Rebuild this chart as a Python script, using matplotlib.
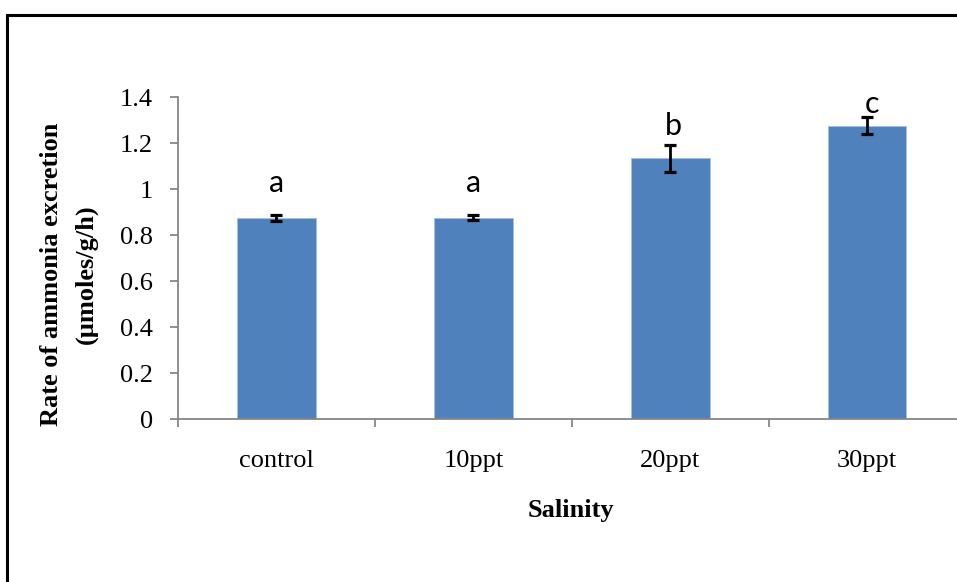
import numpy as np
import matplotlib.pyplot as plt
from matplotlib.patches import Rectangle

# data
groups = ['control', '10ppt', '20ppt', '30ppt']
rate = [0.873, 0.875, 1.133, 1.275]
err = [0.013, 0.010, 0.059, 0.038]
letters = ['a', 'a', 'b', 'c']
yticks = [0, 0.2, 0.4, 0.6, 0.8, 1, 1.2, 1.4]
ytick_labels = ['0', '0.2', '0.4', '0.6', '0.8', '1', '1.2', '1.4']

serif = 'Liberation Serif'
grey = '#868686'

fig = plt.figure(figsize=(9.57, 5.82), dpi=100)
ax = fig.add_axes([178 / 957, 1 - 419 / 582, (965.5 - 178) / 957, (419 - 97) / 582])

x = np.arange(len(groups))
ax.bar(x, rate, width=0.4, color='#4F81BD', edgecolor='#A7BFDE', linewidth=0.6, zorder=2)
ax.errorbar(x, rate, yerr=err, fmt='none', ecolor='black', elinewidth=2,
            capsize=4.3, capthick=2.3, zorder=3)

# significance letters, placed by hand like in the original
offsets = [0.1, 0.1, 0.043, 0.017]
shifts = [0, 0, 0.015, 0.025]
for xi, r, e, lab, off, sh in zip(x, rate, err, letters, offsets, shifts):
    ax.text(xi + sh, r + e + off, lab, ha='center', va='baseline', fontsize=22,
            family='Lato', color='black')

ax.set_ylim(0, 1.4)
ax.set_xlim(-0.5, len(groups) - 0.5)
ax.set_yticks(yticks)
ax.set_yticklabels(ytick_labels, fontsize=19, family=serif)

# ticks between categories, labels at centres
ax.set_xticks(np.arange(len(groups) + 1) - 0.5)
ax.set_xticklabels([])
ax.set_xticks(x, minor=True)
ax.set_xticklabels(groups, minor=True, fontsize=19, family=serif)
ax.tick_params(axis='x', which='minor', length=0, pad=22)
ax.tick_params(axis='x', which='major', direction='out', length=6, color=grey, width=1.3)
ax.tick_params(axis='y', direction='out', length=6, color=grey, width=1.3, pad=12)

for s in ['top', 'right']:
    ax.spines[s].set_visible(False)
for s in ['left', 'bottom']:
    ax.spines[s].set_color(grey)
    ax.spines[s].set_linewidth(1.3)

fig.text(52 / 957, 1 - 274 / 582, 'Rate of ammonia excretion', rotation=90,
         ha='center', va='center', fontsize=19, fontweight='bold', family=serif)
fig.text(86 / 957, 1 - 274 / 582, '(µmoles/g/h)', rotation=90,
         ha='center', va='center', fontsize=19, fontweight='bold', family=serif)
fig.text(571 / 957, 1 - 510 / 582, 'Salinity', ha='center', va='center',
         fontsize=19, fontweight='bold', family=serif)

# outer chart border (cut by the image edge)
fig.patches.append(Rectangle((7 / 957, -0.1), 1.1, 1 - 15 / 582 + 0.1,
                             transform=fig.transFigure, fill=False,
                             edgecolor='black', linewidth=2.2))

fig.savefig('out.png', dpi=100)
